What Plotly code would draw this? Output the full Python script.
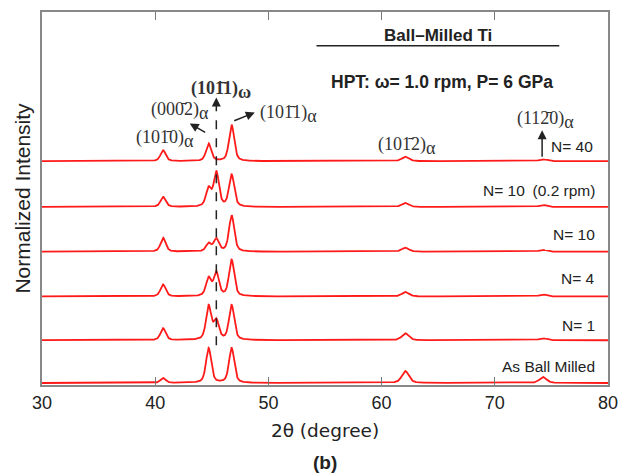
import numpy as np
import plotly.graph_objects as go

# ---- data ----
sample_labels = ["As Ball Milled", "N= 1", "N= 4", "N= 10", "N= 10\u2002(0.2 rpm)", "N= 40"]
offsets = [2, 45, 89, 134, 179, 225]
peak_names = ["(10-10)a", "(0002)a", "(10-11)w", "(10-11)a", "(10-12)a", "(11-20)a"]
peak_pos = [40.7, 44.72, 45.4, 46.75, 62.1, 74.25]
peak_hwhm = [0.27, 0.27, 0.27, 0.27, 0.37, 0.37]
h_ball_milled = [5, 35, 0, 35, 12, 6]
h_n1 = [12, 34, 19, 35, 7, 2]
h_n4 = [12, 18, 23.5, 36.5, 4.5, 2]
h_n10 = [14, 8, 12.5, 36.5, 4, 2]
h_n10_slow = [10, 18, 34.5, 32, 4, 2]
h_n40 = [11, 17.5, 0, 36.5, 4.5, 2]
heights = [h_ball_milled, h_n1, h_n4, h_n10, h_n10_slow, h_n40]

tt = np.arange(30.0, 80.0001, 0.02)

def profile(hs):
    y = np.zeros_like(tt)
    for p, w, h in zip(peak_pos, peak_hwhm, hs):
        g = np.exp(-np.log(2) * ((tt - p) / w) ** 2)
        l = 1.0 / (1.0 + ((tt - p) / w) ** 2)
        y += h * (0.5 * g + 0.5 * l)
    return y

fig = go.Figure()
for lab, off, hs in zip(sample_labels, offsets, heights):
    fig.add_trace(go.Scatter(x=tt, y=profile(hs) + off, mode="lines",
                             line=dict(color="#ff1a1a", width=1.8),
                             name=lab, showlegend=False, hoverinfo="skip"))

sans = "Liberation Sans, Arial, sans-serif"
serif = "Liberation Serif, Times New Roman, serif"

# right-side labels
label_y = [19, 60, 107, 151, 196]
for lab, yy in zip(sample_labels[:5], label_y):
    fig.add_annotation(x=79.05, y=yy, text=lab, showarrow=False, xanchor="right",
                       yanchor="middle", font=dict(family=sans, size=15.5, color="#222"))
fig.add_annotation(x=74.75, y=240, text="N= 40", showarrow=False, xanchor="left",
                   yanchor="middle", font=dict(family=sans, size=15.5, color="#222"))

# peak labels (serif)
sf = dict(family=serif, size=18, color="#333")
A = "<sub><span style='font-size:18px'>\u03b1</span></sub>"
W = "<sub><span style='font-size:18px'>\u03c9</span></sub>"
fig.add_annotation(x=40.9, y=247, text="(101\u03040)" + A, showarrow=False, font=sf)
fig.add_annotation(x=42.2, y=275, text="(000\u03042)" + A, showarrow=False, font=sf)
fig.add_annotation(x=45.8, y=297, text="<b>(101\u03041)" + W + "</b>", showarrow=False, font=sf)
fig.add_annotation(x=51.8, y=272, text="(101\u03041)" + A, showarrow=False, font=sf)
fig.add_annotation(x=62.2, y=240, text="(101\u03042)" + A, showarrow=False, font=sf)
fig.add_annotation(x=74.45, y=266, text="(112\u03040)" + A, showarrow=False, font=sf)

# arrows
arr = dict(showarrow=True, arrowhead=2, arrowsize=1.2, arrowwidth=1.5, arrowcolor="#222",
           axref="x", ayref="y", text="")
fig.add_annotation(x=43.05, y=263, ax=44.55, ay=253, **arr)
fig.add_annotation(x=48.8, y=274, ax=46.85, ay=265, **arr)
fig.add_annotation(x=74.18, y=256, ax=74.18, ay=228, **arr)
fig.add_annotation(x=45.4, y=289, ax=45.4, ay=280, **arr)
fig.add_shape(type="line", x0=45.4, x1=45.4, y0=40, y1=282,
              line=dict(color="#222", width=1.5, dash="dash"))

# title block
fig.add_annotation(x=64.95, y=351, text="<b>Ball\u2013Milled Ti</b>", showarrow=False,
                   font=dict(family=sans, size=17, color="#222"))
fig.add_shape(type="line", x0=54.25, x1=75.7, y0=341, y1=341, line=dict(color="#222", width=1.4))
fig.add_annotation(x=65.3, y=305, text="<b>HPT: \u03c9= 1.0 rpm, P= 6 GPa</b>", showarrow=False,
                   font=dict(family=sans, size=17.5, color="#222"))

fig.add_annotation(x=0.5, xref="paper", y=-0.24, yref="paper", text="<b>(b)</b>",
                   showarrow=False, font=dict(family=sans, size=19, color="#222"))

fig.update_xaxes(range=[30, 80], dtick=10, tick0=30, ticks="inside", ticklen=8, tickwidth=1.3,
                 tickcolor="#777", showline=True, linecolor="#888", linewidth=2, mirror="ticks",
                 showgrid=False, zeroline=False,
                 tickfont=dict(family=sans, size=18, color="#222"),
                 title=dict(text="2\u03b8 (degree)",
                            font=dict(family="DejaVu Sans, sans-serif", size=18.5, color="#222"),
                            standoff=12))
fig.update_yaxes(range=[0, 375], showticklabels=False, ticks="", showline=True, linecolor="#888",
                 linewidth=2, mirror=True, showgrid=False, zeroline=False,
                 title=dict(text="Normalized Intensity", font=dict(family=sans, size=21, color="#222"),
                            standoff=4))
fig.update_layout(width=628, height=475, margin=dict(l=42, r=19, t=10, b=90),
                  plot_bgcolor="white", paper_bgcolor="white")
fig.write_html("out.html")
